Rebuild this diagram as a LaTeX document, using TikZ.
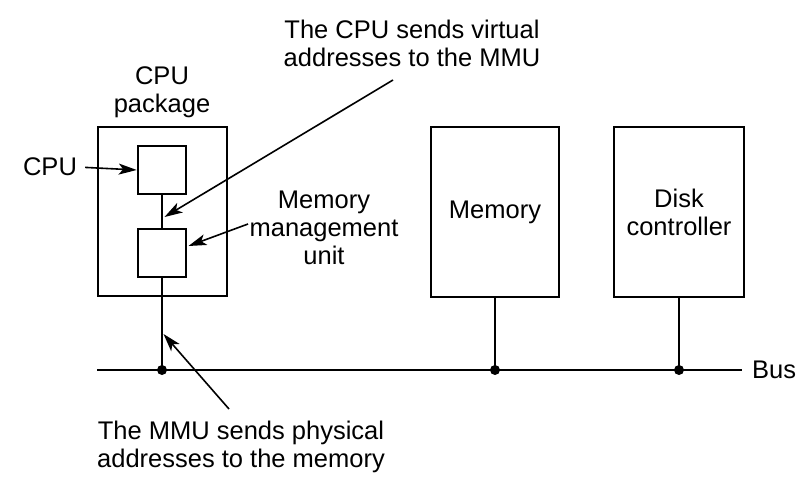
\documentclass[tikz,border=0pt]{standalone}
\usepackage{fontspec}
\setmainfont{Liberation Sans}
\usetikzlibrary{arrows.meta}
\begin{document}
\begin{tikzpicture}[x=1pt,y=-1pt,
  box/.style={draw, line width=2.6pt, inner sep=0pt, align=center,
    font=\fontsize{25.5}{28}\selectfont},
  lbl/.style={align=center, inner sep=0pt, font=\fontsize{25.5}{28}\selectfont},
  conn/.style={line width=2.6pt},
  ptr/.style={line width=1.6pt, -{Stealth[length=18pt,width=11pt,inset=4.5pt]}},
  dot/.style={circle, fill, inner sep=0pt, minimum size=10pt}]
\useasboundingbox (0,0) rectangle (806,497);
% boxes
\node[box, minimum width=129pt, minimum height=169pt] (pkg) at (162.5,211.5) {};
\node[box, minimum width=48pt, minimum height=48pt] (cpu) at (162,170) {};
\node[box, minimum width=48pt, minimum height=48pt] (mmu) at (162,253) {};
\node[box, minimum width=128pt, minimum height=170pt] (mem) at (495,212) {Memory};
\node[box, minimum width=130pt, minimum height=170pt] (disk) at (679,212) {Disk\\controller};
% bus
\coordinate (busL) at (97,370);
\coordinate (busR) at (742,370);
\draw[conn] (busL) -- (busR);
\node[dot] (d1) at (162,370) {};
\node[dot] (d2) at (495,370) {};
\node[dot] (d3) at (679,370) {};
\node[lbl, anchor=west] (bus) at (752,370) {Bus};
% vertical connectors
\draw[conn] (cpu.south) -- (mmu.north);
\draw[conn] (mmu.south) -- (d1.center);
\draw[conn] (mem.south) -- (d2.center);
\draw[conn] (disk.south) -- (d3.center);
% labels
\node[lbl] (pkglbl) at (162,92) {CPU\\package};
\node[lbl] (cpulbl) at (50,167) {CPU};
\node[lbl] (vlbl) at (412,43) {The CPU sends virtual\\addresses to the MMU};
\node[lbl] (mmulbl) at (324,228) {Memory\\management\\unit};
\node[lbl] (plbl) at (241,447) {The MMU sends physical\\addresses to the memory};
% pointer arrows
\coordinate (vstart) at (393,80);
\coordinate (vtip) at (164.5,217);
\coordinate (mstart) at (248,224);
\coordinate (mtip) at (188.5,246);
\coordinate (pstart) at (229,409);
\coordinate (ptip) at (163.5,334);
\draw[ptr, shorten <=8pt] (cpulbl.east) -- (cpu.west);
\draw[ptr] (vstart) -- (vtip);
\draw[ptr] (mstart) -- (mtip);
\draw[ptr] (pstart) -- (ptip);
\end{tikzpicture}
\end{document}
